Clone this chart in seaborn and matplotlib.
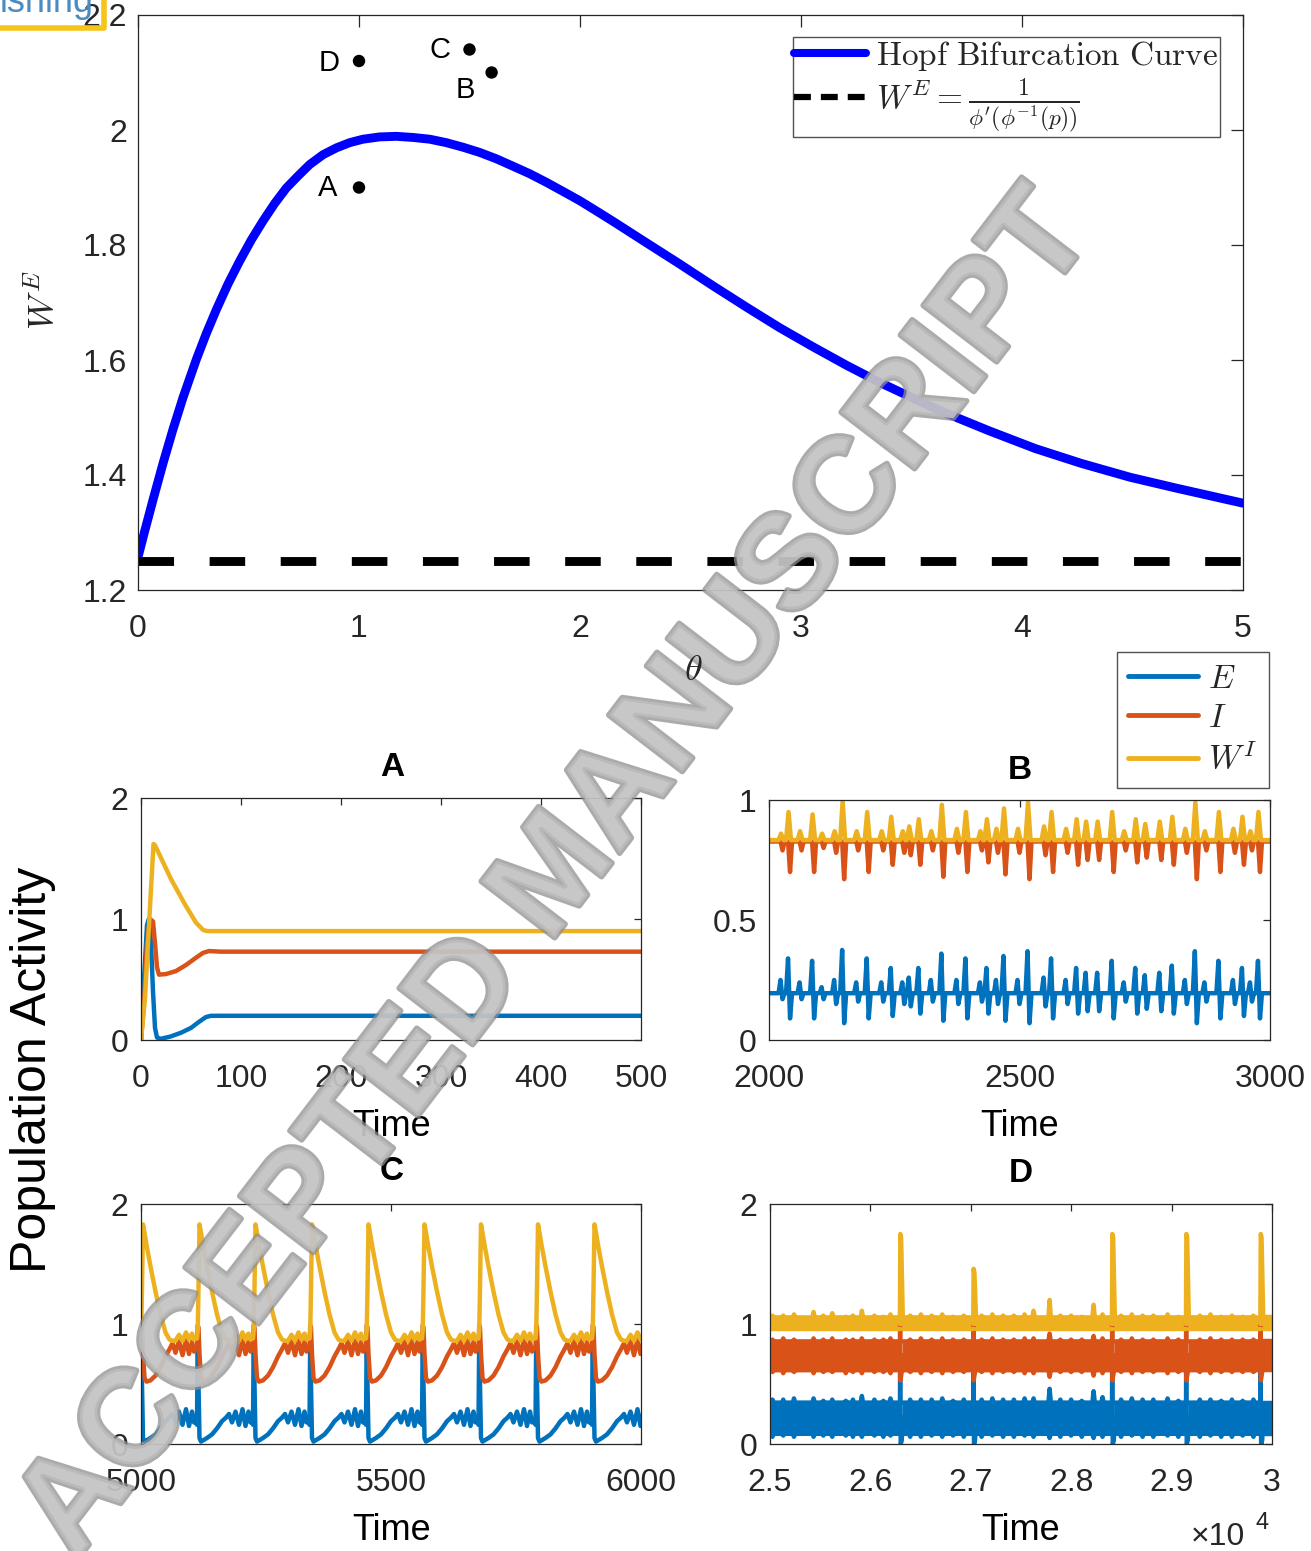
import numpy as np
import pandas as pd
import matplotlib
matplotlib.use("Agg")
import matplotlib.pyplot as plt
import seaborn as sns
from matplotlib.lines import Line2D
import matplotlib.patheffects as pe

# ---------------------------------------------------------------- data
# Hopf bifurcation curve in the (theta, W^E) plane
hopf_theta = [0.000, 0.030, 0.068, 0.113, 0.158, 0.204, 0.264, 0.309, 0.355, 0.407,
              0.460, 0.513, 0.566, 0.618, 0.671, 0.724, 0.777, 0.837, 0.898, 0.958,
              1.018, 1.094, 1.169, 1.245, 1.320, 1.395, 1.471, 1.546, 1.621, 1.697,
              1.772, 1.848, 1.924, 1.999, 2.075, 2.150, 2.300, 2.451, 2.602, 2.753,
              2.904, 3.054, 3.205, 3.356, 3.500, 3.640, 3.850, 4.060, 4.270, 4.490,
              4.700, 4.850, 5.000]
hopf_w = [1.257, 1.302, 1.357, 1.420, 1.479, 1.535, 1.601, 1.646, 1.688, 1.732,
          1.772, 1.809, 1.842, 1.872, 1.899, 1.920, 1.940, 1.957, 1.969, 1.978,
          1.984, 1.988, 1.989, 1.987, 1.984, 1.978, 1.970, 1.961, 1.950, 1.937,
          1.924, 1.909, 1.893, 1.877, 1.859, 1.841, 1.804, 1.767, 1.729, 1.692,
          1.656, 1.623, 1.591, 1.561, 1.535, 1.510, 1.477, 1.446, 1.420, 1.396,
          1.377, 1.364, 1.351]
w_threshold = 1.25

# parameter points used for the four simulations
pt_names = ["A", "B", "C", "D"]
pt_theta = [1.0, 1.6, 1.5, 1.0]
pt_w = [1.90, 2.10, 2.14, 2.12]

# Panel A: damped transient to a fixed point
a_t_E = [0, 3, 6, 8, 10, 12, 14, 16, 20, 30, 40, 50, 58, 65, 70, 80, 500]
a_E = [0.0, 0.5, 0.95, 1.0, 0.8, 0.4, 0.1, 0.02, 0.01, 0.03, 0.06, 0.10, 0.15, 0.19, 0.20, 0.20, 0.20]
a_t_I = [0, 3, 6, 9, 12, 14, 16, 18, 25, 35, 45, 55, 62, 68, 80, 500]
a_I = [0.0, 0.3, 0.8, 1.0, 0.98, 0.8, 0.6, 0.54, 0.545, 0.57, 0.62, 0.68, 0.72, 0.735, 0.73, 0.73]
a_t_W = [0, 4, 8, 12.5, 14, 30, 44, 55, 62, 66, 500]
a_W = [0.0, 0.35, 0.95, 1.62, 1.61, 1.33, 1.12, 0.97, 0.91, 0.90, 0.90]

# Panel B: irregular small oscillations (event time, E peak, E trough, I trough, W^I peak)
b_base_E, b_base_I, b_base_W = 0.195, 0.827, 0.833
b_t = [2023, 2038, 2061, 2086, 2105, 2130, 2146, 2174, 2195, 2224, 2243, 2266, 2279,
       2298, 2323, 2344, 2374, 2392, 2421, 2434, 2453, 2468, 2496, 2516, 2548, 2563,
       2592, 2613, 2632, 2655, 2684, 2708, 2731, 2750, 2779, 2804, 2830, 2850, 2869,
       2897, 2926, 2944, 2960, 2976]
b_E_hi = [0.25, 0.34, 0.24, 0.33, 0.22, 0.25, 0.375, 0.24, 0.34, 0.24, 0.30, 0.24, 0.26,
          0.30, 0.25, 0.36, 0.25, 0.34, 0.24, 0.30, 0.25, 0.35, 0.25, 0.37, 0.26, 0.34,
          0.25, 0.30, 0.28, 0.28, 0.33, 0.24, 0.30, 0.27, 0.28, 0.31, 0.25, 0.37, 0.24,
          0.33, 0.25, 0.30, 0.24, 0.33]
b_E_lo = [0.17, 0.09, 0.17, 0.09, 0.17, 0.15, 0.07, 0.16, 0.09, 0.16, 0.10, 0.15, 0.14,
          0.11, 0.16, 0.08, 0.15, 0.09, 0.16, 0.11, 0.15, 0.08, 0.15, 0.07, 0.14, 0.09,
          0.15, 0.11, 0.12, 0.12, 0.09, 0.16, 0.11, 0.13, 0.12, 0.11, 0.15, 0.07, 0.16,
          0.09, 0.15, 0.10, 0.16, 0.09]
b_I_lo = [0.79, 0.70, 0.79, 0.70, 0.80, 0.78, 0.67, 0.79, 0.70, 0.79, 0.73, 0.78, 0.77,
          0.73, 0.79, 0.68, 0.78, 0.70, 0.79, 0.74, 0.78, 0.69, 0.78, 0.67, 0.77, 0.70,
          0.78, 0.73, 0.75, 0.75, 0.70, 0.79, 0.74, 0.76, 0.75, 0.73, 0.78, 0.67, 0.79,
          0.70, 0.78, 0.73, 0.79, 0.70]
b_W_hi = [0.86, 0.95, 0.87, 0.94, 0.86, 0.87, 0.995, 0.87, 0.95, 0.87, 0.93, 0.87, 0.89,
          0.92, 0.87, 0.98, 0.88, 0.95, 0.87, 0.92, 0.88, 0.965, 0.88, 0.99, 0.89, 0.95,
          0.88, 0.92, 0.91, 0.91, 0.95, 0.87, 0.92, 0.90, 0.91, 0.93, 0.88, 0.99, 0.87,
          0.95, 0.88, 0.93, 0.87, 0.95]

# Panel C: relaxation oscillation, one cycle repeated at each burst onset
c_onsets = [4999, 5112, 5224, 5337, 5450, 5562, 5675, 5789, 5902]
c_phase = [0, 1.5, 3, 5, 8, 12, 20, 30, 40, 50, 58, 64, 70, 77, 84, 91, 97, 103, 107, 111]
c_E = [0.16, 0.93, 0.50, 0.05, 0.02, 0.03, 0.05, 0.08, 0.13, 0.19, 0.22, 0.25, 0.18, 0.27,
       0.16, 0.29, 0.15, 0.27, 0.18, 0.20]
c_I = [0.80, 0.99, 0.97, 0.75, 0.55, 0.52, 0.53, 0.57, 0.64, 0.73, 0.79, 0.84, 0.76, 0.86,
       0.74, 0.87, 0.75, 0.85, 0.77, 0.80]
c_W = [0.88, 0.95, 1.30, 1.83, 1.76, 1.66, 1.48, 1.27, 1.08, 0.93, 0.87, 0.86, 0.86, 0.91,
       0.86, 0.93, 0.87, 0.92, 0.87, 0.88]

# Panel D: fast fluctuation bands with rare large bursts
d_band_E = (0.085, 0.345)
d_band_I = (0.615, 0.855)
d_band_W = (0.955, 1.055)
d_bursts = [26296, 27026, 28408, 29145, 29886]
d_burst_W = [1.75, 1.46, 1.75, 1.75, 1.75]
d_burst_phase = [-2, 0, 3, 6, 16, 28]
d_burst_E = [0.22, 0.60, 0.30, 0.00, 0.03, 0.22]
d_burst_I = [0.74, 1.00, 0.53, 0.55, 0.60, 0.74]
# excursions at the band edges
d_tex_t = [25025, 25132, 25239, 25434, 25531, 25620, 25755, 25826, 25915, 26040, 26129,
           26200, 26396, 26503, 26610, 26716, 26823, 26930, 27108, 27215, 27322, 27429,
           27536, 27625, 27785, 27892, 27999, 28105, 28223, 28312, 28497, 28604, 28711,
           28818, 28960, 29067, 29281, 29387, 29494, 29601, 29708, 29815]
d_tex_W_top = [1.07, 1.07, 1.08, 1.10, 1.07, 1.09, 1.06, 1.07, 1.11, 1.07, 1.06, 1.08, 1.07,
               1.08, 1.07, 1.08, 1.06, 1.07, 1.07, 1.08, 1.07, 1.07, 1.08, 1.11, 1.20, 1.07,
               1.07, 1.06, 1.16, 1.08, 1.07, 1.08, 1.07, 1.07, 1.08, 1.06, 1.07, 1.08, 1.06,
               1.07, 1.06, 1.07]
d_tex_E_top = [0.37, 0.37, 0.38, 0.38, 0.36, 0.37, 0.36, 0.37, 0.40, 0.37, 0.36, 0.38, 0.37,
               0.37, 0.37, 0.38, 0.36, 0.37, 0.37, 0.38, 0.37, 0.37, 0.38, 0.38, 0.46, 0.37,
               0.37, 0.36, 0.44, 0.39, 0.37, 0.38, 0.37, 0.37, 0.38, 0.36, 0.37, 0.37, 0.36,
               0.37, 0.36, 0.37]
d_tex_E_bot = [0.06, 0.07, 0.06, 0.06, 0.07, 0.06, 0.07, 0.06, 0.06, 0.07, 0.06, 0.07, 0.06,
               0.06, 0.07, 0.06, 0.07, 0.06, 0.06, 0.07, 0.06, 0.06, 0.07, 0.06, 0.05, 0.06,
               0.07, 0.06, 0.05, 0.06, 0.06, 0.07, 0.06, 0.06, 0.07, 0.06, 0.06, 0.07, 0.06,
               0.06, 0.07, 0.06]
d_tex_I_top = [0.87, 0.88, 0.87, 0.88, 0.87, 0.88, 0.87, 0.87, 0.88, 0.87, 0.87, 0.88, 0.87,
               0.88, 0.87, 0.88, 0.87, 0.87, 0.87, 0.88, 0.87, 0.87, 0.88, 0.88, 0.92, 0.87,
               0.87, 0.87, 0.90, 0.88, 0.87, 0.88, 0.87, 0.87, 0.88, 0.87, 0.87, 0.88, 0.87,
               0.87, 0.87, 0.87]
d_tex_I_bot = [0.60, 0.59, 0.60, 0.59, 0.60, 0.60, 0.59, 0.60, 0.59, 0.60, 0.60, 0.59, 0.60,
               0.59, 0.60, 0.59, 0.60, 0.60, 0.60, 0.59, 0.60, 0.60, 0.59, 0.59, 0.56, 0.60,
               0.60, 0.60, 0.57, 0.59, 0.60, 0.59, 0.60, 0.60, 0.59, 0.60, 0.60, 0.59, 0.60,
               0.60, 0.60, 0.60]

# ---------------------------------------------------------------- style
sns.set_theme(style="white")
plt.rcParams['font.family'] = ['Liberation Sans', 'DejaVu Sans']
plt.rcParams['mathtext.fontset'] = 'cm'

COL_E, COL_I, COL_W = "#0072BD", "#D95319", "#EDB120"
AX_COL = "#262626"
TICK_FS = 23
LABEL_FS = 26
LW = 3.2

W_PX, H_PX = 1311, 1551
fig = plt.figure(figsize=(W_PX / 100, H_PX / 100), dpi=100)


def rect(l, t, r, b):
    return [l / W_PX, 1 - b / H_PX, (r - l) / W_PX, (b - t) / H_PX]


def fpos(x, y):
    return x / W_PX, 1 - y / H_PX


def boxed(ax, length, pad_x, pad_y):
    for s in ax.spines.values():
        s.set_visible(True)
        s.set_color(AX_COL)
        s.set_linewidth(0.9)
    ax.tick_params(direction="in", top=True, right=True, length=length, width=0.9,
                   color=AX_COL, labelcolor=AX_COL, labelsize=TICK_FS)
    ax.tick_params(axis="x", pad=pad_x)
    ax.tick_params(axis="y", pad=pad_y)
    ax.grid(False)


def line(ax, x, y, color, lw, **kw):
    sns.lineplot(x=np.asarray(x, float), y=np.asarray(y, float), ax=ax, color=color,
                 lw=lw, sort=False, estimator=None, legend=False,
                 solid_joinstyle="round", **kw)


def event_series(t0, t1, base, times, offsets, values):
    xs, ys = [t0], [base]
    for i, t in enumerate(times):
        for o, v in zip(offsets, values[i]):
            xs.append(t + o)
            ys.append(v)
    xs.append(t1)
    ys.append(base)
    return xs, ys


# ---------------------------------------------------------------- top panel
ax0 = fig.add_axes(rect(138, 15, 1243, 590))
line(ax0, hopf_theta, hopf_w, "#0000FF", 6.4)
line(ax0, [0, 5], [w_threshold, w_threshold], "black", 6.4, linestyle=(0, (4.0, 4.0)))
sns.scatterplot(x=pt_theta, y=pt_w, ax=ax0, color="black", s=80, edgecolor="none",
                legend=False, zorder=5)
label_off = {"A": (-31, 0), "B": (-26, -18), "C": (-30, 0), "D": (-30, -2)}
for n, th, w in zip(pt_names, pt_theta, pt_w):
    dx, dy = label_off[n]
    ax0.annotate(n, (th, w), xytext=(dx / 1.389, dy / 1.389), textcoords="offset points",
                 ha="center", va="center", fontsize=21, color="black")
ax0.set_xlim(0, 5)
ax0.set_ylim(1.2, 2.2)
ax0.set_xticks([0, 1, 2, 3, 4, 5])
ax0.set_yticks([1.2, 1.4, 1.6, 1.8, 2.0, 2.2])
ax0.set_yticklabels(["1.2", "1.4", "1.6", "1.8", "2", "2.2"])
boxed(ax0, 8.5, 17, 8)
ax0.set_xlabel("")
ax0.set_ylabel("")
handles = [Line2D([], [], color="#0000FF", lw=5.8),
           Line2D([], [], color="black", lw=4.5, linestyle=(0, (2.7, 1.6)))]
labels = [r"$\mathrm{Hopf\ Bifurcation\ Curve}$",
          r"$W^E = \frac{1}{\phi'(\phi^{-1}(p))}$"]
leg0 = ax0.legend(handles, labels, loc="upper right", bbox_to_anchor=(0.979, 0.962),
                  frameon=True, fancybox=False, fontsize=24, handlelength=2.15,
                  handletextpad=0.3, labelspacing=0.12, borderpad=0.05, borderaxespad=0)
leg0.get_frame().set_edgecolor(AX_COL)
leg0.get_frame().set_linewidth(1.0)
fig.text(*fpos(693, 670), r"$\theta$", fontsize=LABEL_FS, ha="center", va="center",
         zorder=10)
fig.text(*fpos(45, 300), r"$W^E$", fontsize=LABEL_FS, ha="center", va="center", rotation=90)

# ---------------------------------------------------------------- panel A
axA = fig.add_axes(rect(141, 798, 641, 1040))
line(axA, a_t_E, a_E, COL_E, LW)
line(axA, a_t_I, a_I, COL_I, LW)
line(axA, a_t_W, a_W, COL_W, LW)
axA.set_xlim(0, 500)
axA.set_ylim(0, 2)
axA.set_xticks([0, 100, 200, 300, 400, 500])
axA.set_yticks([0, 1, 2])

# ---------------------------------------------------------------- panel B
axB = fig.add_axes(rect(769, 800, 1270, 1040))
offs = [-4, 0, 4, 8]
bE = event_series(2000, 3000, b_base_E, b_t, offs,
                  [(b_base_E, h, l, b_base_E) for h, l in zip(b_E_hi, b_E_lo)])
bI = event_series(2000, 3000, b_base_I, b_t, offs,
                  [(b_base_I, b_base_I, l, b_base_I) for l in b_I_lo])
bW = event_series(2000, 3000, b_base_W, b_t, [-4, 1, 6, 8],
                  [(b_base_W, h, b_base_W, b_base_W) for h in b_W_hi])
line(axB, *bE, COL_E, LW)
line(axB, *bI, COL_I, LW)
line(axB, *bW, COL_W, LW)
axB.set_xlim(2000, 3000)
axB.set_ylim(0, 1)
axB.set_xticks([2000, 2500, 3000])
axB.set_yticks([0, 0.5, 1])
axB.set_yticklabels(["0", "0.5", "1"])

# ---------------------------------------------------------------- panel C
axC = fig.add_axes(rect(141, 1204, 641, 1444))
for vals, col in ((c_E, COL_E), (c_I, COL_I), (c_W, COL_W)):
    xs, ys = [], []
    for s in c_onsets:
        xs += [s + p for p in c_phase]
        ys += list(vals)
    line(axC, xs, ys, col, LW)
axC.set_xlim(5000, 6000)
axC.set_ylim(0, 2)
axC.set_xticks([5000, 5500, 6000])
axC.set_yticks([0, 1, 2])

# ---------------------------------------------------------------- panel D
axD = fig.add_axes(rect(770, 1204, 1272, 1444))
seg_edges = [25000] + [v for b in d_bursts for v in (b - 2, b + 28)] + [30000]
segments = list(zip(seg_edges[0::2], seg_edges[1::2]))


def edge_path(a, b, level, tex_vals):
    xs, ys = [a], [level]
    for t, v in zip(d_tex_t, tex_vals):
        if a + 14 < t < b - 14:
            xs += [t - 12, t, t + 12]
            ys += [level, v, level]
    xs.append(b)
    ys.append(level)
    return xs, ys


bands = ((d_band_E, COL_E, d_tex_E_top, d_tex_E_bot, d_burst_E),
         (d_band_I, COL_I, d_tex_I_top, d_tex_I_bot, d_burst_I),
         (d_band_W, COL_W, d_tex_W_top, None, None))
for (lo, hi), col, tex_top, tex_bot, burst_vals in bands:
    for a, b in segments:
        axD.fill_between([a, b], [lo, lo], [hi, hi], color=col, lw=0)
        line(axD, *edge_path(a, b, hi, tex_top), col, LW)
        if tex_bot is not None:
            line(axD, *edge_path(a, b, lo, tex_bot), col, LW)
        else:
            line(axD, [a, b], [lo, lo], col, LW)
    for k, t in enumerate(d_bursts):
        if burst_vals is None:
            pk = d_burst_W[k]
            xs = [t - 2, t + 2, t + 10, t + 28]
            ys = [1.0, pk, pk - 0.03, 1.0]
        else:
            xs = [t + p for p in d_burst_phase]
            ys = burst_vals
        line(axD, xs, ys, col, LW)
axD.set_xlim(25000, 30000)
axD.set_ylim(0, 2)
axD.set_xticks([25000, 26000, 27000, 28000, 29000, 30000])
axD.set_xticklabels(["2.5", "2.6", "2.7", "2.8", "2.9", "3"])
axD.set_yticks([0, 1, 2])
fig.text(*fpos(1218, 1537), "×10", fontsize=TICK_FS, ha="center", va="center", color=AX_COL)
fig.text(*fpos(1262, 1523), "4", fontsize=17, ha="center", va="center", color=AX_COL)

for ax in (axA, axB, axC, axD):
    boxed(ax, 5, 17, 9)
    ax.set_xlabel("")
    ax.set_ylabel("")

for name, (x, y) in zip("ABCD", [(392, 768), (1020, 770), (392, 1172), (1021, 1174)]):
    fig.text(*fpos(x, y), name, fontsize=24, fontweight="bold", ha="center", va="center",
             color="black")
for (x, y) in [(392, 1126), (1020, 1127), (392, 1530), (1021, 1530)]:
    fig.text(*fpos(x, y), "Time", fontsize=LABEL_FS, ha="center", va="center", color="black")
fig.text(*fpos(33, 1070), "Population Activity", fontsize=36, ha="center", va="center",
         rotation=90, color="black")

# shared legend for the simulation panels
hE = [Line2D([], [], color=COL_E, lw=3.5), Line2D([], [], color=COL_I, lw=3.5),
      Line2D([], [], color=COL_W, lw=3.5)]
leg1 = fig.legend(hE, [r"$E$", r"$I$", r"$W^I$"], loc="upper right",
                  bbox_to_anchor=fpos(1269, 652), frameon=True, fancybox=False,
                  fontsize=24, handlelength=2.1, handletextpad=0.3, labelspacing=0.25,
                  borderpad=0.35, borderaxespad=0)
leg1.get_frame().set_edgecolor(AX_COL)
leg1.get_frame().set_linewidth(1.0)

# publisher stamp and diagonal watermark
fig.text(*fpos(47, 2), "ishing", fontsize=26, ha="center", va="center", color="#4a8cc2")
fig.add_artist(Line2D([0, 104 / W_PX, 104 / W_PX], [1 - 28 / H_PX, 1 - 28 / H_PX, 1.0],
                      transform=fig.transFigure, color="#F5C518", lw=4))
fig.text(*fpos(558, 876), "ACCEPTED MANUSCRIPT", fontsize=97, fontweight="bold",
         ha="center", va="center", rotation=52.5, rotation_mode="anchor",
         color="#c4c4c4", alpha=0.75,
         path_effects=[pe.withStroke(linewidth=4, foreground="#8f8f8f")])

fig.savefig("out.png", dpi=100)
